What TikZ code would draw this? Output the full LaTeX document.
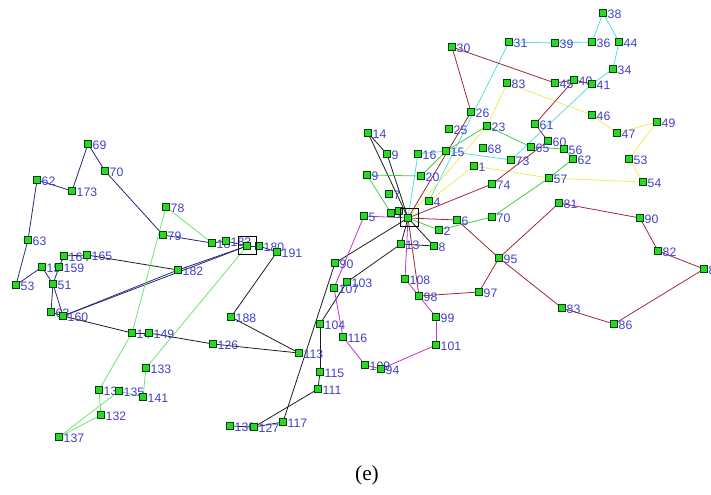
\documentclass[tikz,border=0pt]{standalone}
\usepackage{fontspec}
\setmainfont{Liberation Serif}
\newfontfamily\labfont{Liberation Sans}
\usetikzlibrary{backgrounds}

\definecolor{edgenavy}{RGB}{40,40,120}
\definecolor{edgeblack}{RGB}{30,30,30}
\definecolor{edgelime}{RGB}{110,230,110}
\definecolor{edgegreen}{RGB}{70,205,70}
\definecolor{edgecyan}{RGB}{90,220,225}
\definecolor{edgeyellow}{RGB}{240,235,90}
\definecolor{edgered}{RGB}{160,40,55}
\definecolor{edgemag}{RGB}{200,50,200}
\definecolor{labblue}{RGB}{64,64,205}
\definecolor{sqfill}{RGB}{40,215,40}
\definecolor{sqedge}{RGB}{0,70,0}

\tikzset{
  sq/.style={rectangle, draw=sqedge, fill=sqfill, line width=0.5pt,
             minimum size=5pt, inner sep=0pt},
  lbl/.style={text=labblue, font=\labfont\fontsize{9.2}{9.2}\selectfont,
              inner sep=0.6pt},
  wire/.style={line width=0.6pt},
  frame/.style={draw=black, line width=0.6pt, minimum size=13.5pt, inner sep=0pt},
}
% one vertex: green square with its number to the right
\newcommand\gn[4]{\node[sq,label={[lbl,yshift=-0.8pt]east:#4}] (#1) at (#2,#3) {};}

\begin{document}
\begin{tikzpicture}[x=0.75pt,y=-0.75pt]
\useasboundingbox (0,0) rectangle (711,494);

% ---------- left cluster ----------
\gn{n169}{88}{144}{69}
\gn{n170}{105}{171}{70}
\gn{n162}{37}{180}{62}
\gn{n173}{72}{191}{173}
\gn{n178}{166}{207}{78}
\gn{n163}{28}{240}{63}
\gn{n179}{163}{235}{79}
\gn{n164}{64}{256}{164}
\gn{n165}{87}{255}{165}
\gn{n158}{42}{267}{15}
\gn{n159}{59}{267}{159}
\gn{n182}{178}{270}{182}
\gn{n153}{16}{285}{53}
\gn{n151}{53}{284}{51}
\gn{n161}{51}{312}{63}
\gn{n160}{63}{316}{160}
\gn{n148}{132}{333}{14}
\gn{n149}{149}{333}{149}
\gn{n133}{146}{368}{133}
\gn{n134}{99}{390}{134}
\gn{n135}{119}{391}{135}
\gn{n141}{143}{397}{141}
\gn{n132}{101}{415}{132}
\gn{n137}{59}{437}{137}
\gn{n181}{212}{243}{18}
\gn{n183}{226}{241}{183}
\gn{nB}{247}{246}{}
\gn{n180}{259}{246}{180}
\gn{n191}{277}{252}{191}
\gn{n188}{231}{317}{188}
\gn{n126}{213}{344}{126}

% ---------- lower middle ----------
\gn{n113}{299}{353}{113}
\gn{n104}{320}{324}{104}
\gn{n116}{343}{337}{116}
\gn{n115}{320}{372}{115}
\gn{n111}{318}{389}{111}
\gn{n109}{365}{365}{109}
\gn{n94}{381}{369}{94}
\gn{n130}{230}{426}{130}
\gn{n127}{254}{427}{127}
\gn{n117}{283}{422}{117}
\gn{n90}{335}{263}{90}
\gn{n103}{347}{282}{103}
\gn{n107}{334}{288}{107}
\gn{n108}{405}{279}{108}
\gn{n98}{419}{296}{98}
\gn{n99}{436}{317}{99}
\gn{n101}{436}{345}{101}
\gn{n97}{479}{292}{97}
\gn{n13}{401}{244}{13}
\gn{n8}{434}{246}{8}

% ---------- hub and its neighbours ----------
\gn{n14}{368}{133}{14}
\gn{n9}{387}{154}{9}
\gn{n9b}{367}{175}{9}
\gn{n16}{418}{154}{16}
\gn{n20}{421}{176}{20}
\gn{n7}{389}{194}{7}
\gn{n4}{429}{201}{4}
\gn{n5}{364}{216}{5}
\gn{n1b}{391}{213}{1}
\gn{nC1}{399}{211}{}
\gn{nC}{408}{218}{}
\gn{n6}{457}{220}{6}
\gn{n2}{439}{230}{2}
\gn{n70}{492}{217}{70}
\gn{n74}{492}{184}{74}
\gn{n1}{474}{166}{1}
\gn{n73}{511}{160}{73}
\gn{n15}{446}{151}{15}
\gn{n68}{483}{148}{68}
\gn{n25}{449}{129}{25}
\gn{n23}{487}{126}{23}
\gn{n26}{471}{112}{26}

% ---------- upper right ----------
\gn{n30}{452}{47}{30}
\gn{n31}{509}{42}{31}
\gn{n39}{555}{43}{39}
\gn{n36}{592}{42}{36}
\gn{n38}{603}{13}{38}
\gn{n44}{619}{42}{44}
\gn{n34}{613}{69}{34}
\gn{n83}{507}{83}{83}
\gn{n45}{555}{83}{45}
\gn{n40}{574}{80}{40}
\gn{n41}{592}{84}{41}
\gn{n46}{592}{115}{46}
\gn{n61}{535}{124}{61}
\gn{n60}{548}{141}{60}
\gn{n65}{531}{147}{65}
\gn{n56}{564}{149}{56}
\gn{n62}{573}{159}{62}
\gn{n57}{549}{178}{57}
\gn{n47}{617}{133}{47}
\gn{n49}{657}{122}{49}
\gn{n53}{629}{159}{53}
\gn{n54}{643}{182}{54}

% ---------- lower right ring ----------
\gn{n81}{559}{203}{81}
\gn{n90r}{640}{218}{90}
\gn{n95}{499}{258}{95}
\gn{n92}{658}{251}{82}
\gn{n88}{704}{269}{8}
\gn{n83b}{562}{308}{83}
\gn{n86}{614}{324}{86}

% selection frames
\node[frame] (frameB) at (247,245) {};
\node[frame] (frameC) at (409,217) {};

\begin{scope}[on background layer]
  \foreach \a/\b in {169/173,169/170,170/179,162/173,162/163,163/153,153/158,
                     158/151,159/151,151/161,151/160,161/160,159/164,182/160,
                     160/B,182/B,179/181,181/183,183/B,B/180,180/191}
    \draw[wire,edgenavy] (n\a) -- (n\b);
  \foreach \a/\b in {164/165,165/182,160/148,148/149,149/126,126/113,188/113,
                     188/191,117/90,104/115,115/111,111/127,127/130,127/117,
                     104/103,103/13,90/C,13/8,13/C,8/C,14/9,14/C,9/C}
    \draw[wire,edgeblack] (n\a) -- (n\b);
  \foreach \a/\b in {178/181,178/148,148/134,134/132,132/137,137/135,135/141,
                     141/133,133/B}
    \draw[wire,edgelime] (n\a) -- (n\b);
  \foreach \a/\b in {9b/20,9b/1b,20/15,15/23,23/65,65/56,56/62,62/57,57/70,
                     70/2,2/C}
    \draw[wire,edgegreen] (n\a) -- (n\b);
  \foreach \a/\b in {31/39,39/36,36/38,38/44,44/34,34/41,41/73,73/15,15/16,
                     16/C,31/4}
    \draw[wire,edgecyan] (n\a) -- (n\b);
  \foreach \a/\b in {83/23,83/46,46/47,47/49,49/53,53/54,54/57,57/1,C/23,4/1}
    \draw[wire,edgeyellow] (n\a) -- (n\b);
  \foreach \a/\b in {30/26,30/45,45/40,40/41,40/61,61/60,60/74,74/C,26/C,C/6,
                     6/95,95/81,81/90r,90r/92,92/88,88/86,86/83b,83b/95,95/97,
                     97/98,98/C}
    \draw[wire,edgered] (n\a) -- (n\b);
  \foreach \a/\b in {C/5,5/107,107/116,116/109,109/94,94/101,101/99,99/98,
                     98/108,108/C}
    \draw[wire,edgemag] (n\a) -- (n\b);
\end{scope}

\node[font=\fontsize{16}{16}\selectfont] (cap) at (367,475) {(e)};
\end{tikzpicture}
\end{document}
